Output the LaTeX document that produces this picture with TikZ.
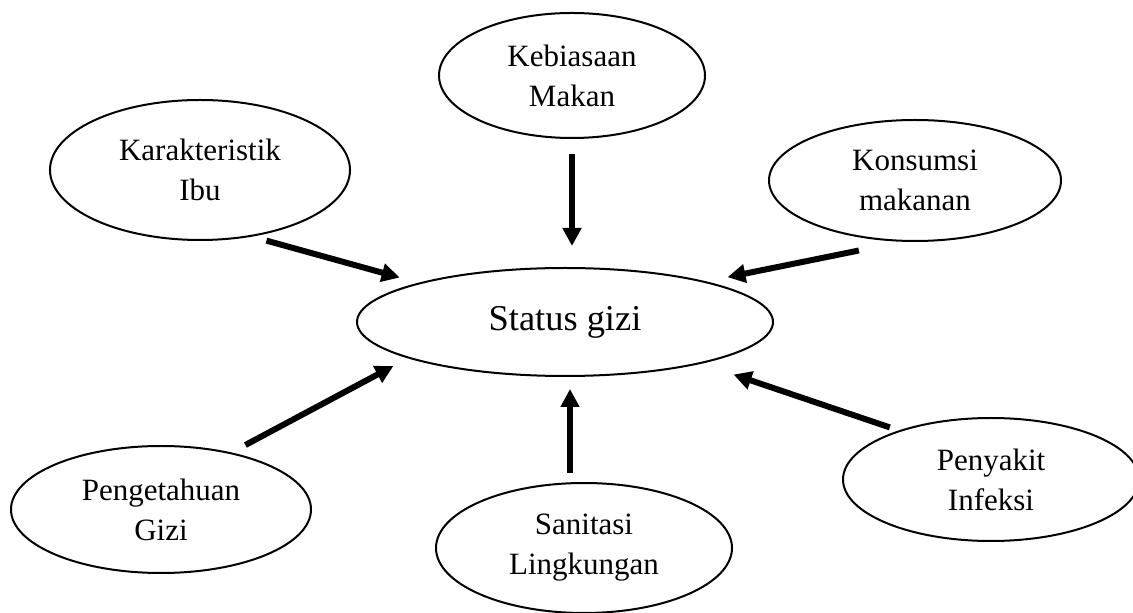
\documentclass[tikz,border=0pt]{standalone}
\usepackage{fontspec}
\setmainfont{Liberation Serif}
\usetikzlibrary{arrows.meta,shapes.geometric}

\begin{document}
\begin{tikzpicture}[>={Triangle[length=9pt,width=9pt]},x=0.5pt,y=-0.5pt,
  factor/.style={draw,ellipse,line width=1pt,align=center,inner sep=2pt,
    font=\fontsize{15.5}{20}\selectfont},
  link/.style={->,line width=3pt}]
\useasboundingbox (0,0) rectangle (1133,613);
\node[factor,minimum width=208pt,minimum height=54pt,font=\fontsize{18.2}{22}\selectfont] (status) at (565,322) {Status gizi};
\node[factor,minimum width=150pt,minimum height=70pt] (kar) at (200,170) {Karakteristik\\Ibu};
\node[factor,minimum width=133pt,minimum height=62.5pt] (keb) at (572,75.5) {Kebiasaan\\Makan};
\node[factor,minimum width=146pt,minimum height=60.5pt] (kon) at (915,180.5) {Konsumsi\\makanan};
\node[factor,minimum width=150pt,minimum height=63.5pt] (peng) at (161,509.5) {Pengetahuan\\Gizi};
\node[factor,minimum width=148pt,minimum height=65pt] (san) at (584,548) {Sanitasi\\Lingkungan};
\node[factor,minimum width=148pt,minimum height=61.5pt] (pen) at (991,479.5) {Penyakit\\Infeksi};
\coordinate (santop) at ([xshift=-7pt]san.north);

\draw[link,shorten <=7.5pt,shorten >=9.8pt] (kar.-52) -- (status.165);
\draw[link,shorten <=7.5pt,shorten >=10.5pt] (keb.south) -- (keb.south |- status.north);
\draw[link,shorten <=22pt,shorten >=10.8pt] (kon.-102) -- (status.16);
\draw[link,shorten <=7.9pt,shorten >=8.2pt] (peng.39) -- (status.-167);
\draw[link,shorten <=4.5pt,shorten >=6pt] (santop) -- (santop |- status.south);
\draw[link,shorten <=4.7pt,shorten >=17pt] (pen.152) -- (status.-17);
\end{tikzpicture}
\end{document}
